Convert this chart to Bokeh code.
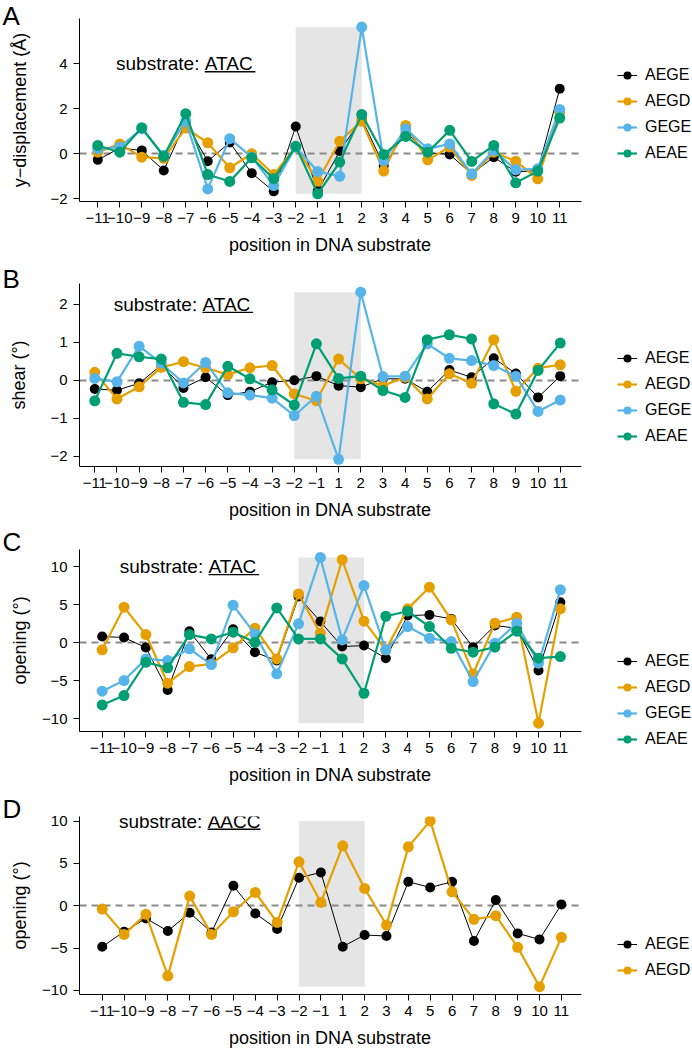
from bokeh.plotting import figure
from bokeh.models import Range1d, FixedTicker, Label, Legend, LegendItem
from bokeh.layouts import column
from bokeh.embed import file_html
from bokeh.resources import INLINE

FONT = "Liberation Sans"

# ---------------- data ----------------
positions = list(range(-11, 0)) + list(range(1, 12))
tick_labels = [str(v).replace("-", "\u2212") for v in positions]
series_names = ["AEGE", "AEGD", "GEGE", "AEAE"]
series_colors = {"AEGE": "#000000", "AEGD": "#E69F00", "GEGE": "#56B4E9", "AEAE": "#009E73"}

# Panel A: y-displacement (Å), substrate ATAC
a_AEGE = [-0.27, 0.25, 0.15, -0.74, 1.40, -0.33, 0.50, -0.86, -1.67, 1.21, -1.66,
          0.12, 1.55, -0.52, 0.95, 0.05, -0.03, -0.90, -0.15, -0.80, -0.75, 2.89]
a_AEGD = [0.07, 0.44, -0.15, -0.20, 1.14, 0.49, -0.62, 0.00, -0.92, 0.30, -1.21,
          0.56, 1.45, -0.77, 1.26, -0.27, 0.30, -0.96, 0.07, -0.33, -1.11, 1.85]
a_GEGE = [0.22, 0.30, 1.11, -0.07, 1.45, -1.56, 0.67, -0.15, -1.41, 0.30, -0.79,
          -1.00, 5.63, -0.30, 1.11, 0.22, 0.44, -0.89, 0.15, -0.71, -0.67, 1.97]
a_AEAE = [0.37, 0.07, 1.16, -0.12, 1.78, -0.92, -1.23, -0.18, -1.11, 0.33, -1.78,
          -0.37, 1.75, -0.03, 0.77, 0.07, 1.04, -0.34, 0.37, -1.29, -0.77, 1.59]

# Panel B: shear (°), substrate ATAC
b_AEGE = [-0.23, -0.26, -0.08, 0.40, -0.20, 0.08, -0.39, -0.30, -0.05, 0.00, 0.11,
          -0.14, -0.18, 0.04, 0.04, -0.30, 0.27, 0.08, 0.58, 0.18, -0.45, 0.11]
b_AEGD = [0.21, -0.49, -0.17, 0.34, 0.49, 0.33, 0.15, 0.33, 0.39, -0.36, -0.54,
          0.56, 0.04, -0.14, 0.08, -0.49, 0.17, -0.08, 1.07, -0.29, 0.32, 0.41]
b_GEGE = [0.05, -0.04, 0.90, 0.45, -0.07, 0.47, -0.33, -0.39, -0.47, -0.93, -0.42,
          -2.08, 2.32, 0.10, 0.11, 0.96, 0.58, 0.52, 0.39, 0.11, -0.82, -0.52]
b_AEAE = [-0.54, 0.71, 0.62, 0.56, -0.58, -0.64, 0.37, 0.04, -0.25, -0.65, 0.96,
          0.05, 0.11, -0.27, -0.45, 1.07, 1.20, 1.09, -0.62, -0.89, 0.26, 0.98]

# Panel C: opening (°), substrate ATAC
c_AEGE = [0.79, 0.66, -0.66, -6.23, 1.49, -2.19, 1.75, -1.27, -2.37, 6.05, 2.76,
          -0.53, -0.39, -2.06, 3.55, 3.64, 3.11, -0.61, 2.24, 1.89, -3.68, 5.30]
c_AEGD = [-0.96, 4.65, 1.05, -5.35, -3.16, -2.81, -0.70, 1.89, -2.15, 6.40, 1.23,
          10.90, 2.81, -0.96, 4.43, 7.28, 2.98, -4.12, 2.54, 3.33, -10.60, 4.43]
c_GEGE = [-6.40, -5.00, -2.15, -2.37, -0.83, -2.89, 4.91, 1.14, -4.12, 2.46, 11.20,
          0.35, 7.50, -0.96, 2.10, 0.57, 0.13, -5.13, -0.09, 2.54, -2.72, 6.93]
c_AEAE = [-8.20, -6.97, -2.59, -3.33, 1.05, 0.48, 1.36, 0.04, 4.56, 0.48, 0.48,
          -2.15, -6.67, 3.46, 4.12, 2.10, -0.75, -1.27, -0.61, 1.49, -2.06, -1.84]

# Panel D: opening (°), substrate AACC
d_AEGE = [-4.84, -3.07, -1.50, -2.99, -0.83, -3.15, 2.36, -0.91, -2.76, 3.31, 3.94,
          -4.84, -3.46, -3.58, 2.83, 2.17, 2.83, -4.17, 0.67, -3.27, -3.98, 0.16]
d_AEGD = [-0.39, -3.39, -1.02, -8.30, 1.14, -3.39, -0.71, 1.57, -1.97, 5.20, 0.39,
          7.09, 2.05, -2.28, 6.97, 10.04, 1.65, -1.61, -1.18, -4.92, -9.57, -3.74]

# ---------------- helpers ----------------
EM = {"s": .5, "u": .556, "b": .556, "t": .278, "r": .333, "a": .556, "e": .556,
      ":": .278, " ": .278, "A": .667, "T": .611, "C": .722}


def text_w(s, size):
    return sum(EM.get(ch, .556) for ch in s) * size


TOTAL_W = 692
MBL = 79
FW = 502


def panel(letter, ylabel, data, xr, yr, yticks, substrate, fh, mbt, mbb, title_standoff,
          legend_vy, ylab_standoff, xlab_standoff):
    xs = list(range(len(positions)))
    p = figure(frame_width=FW, frame_height=fh, min_border_left=MBL,
               min_border_right=TOTAL_W - MBL - FW,
               min_border_top=mbt, min_border_bottom=mbb,
               x_range=Range1d(*xr), y_range=Range1d(*yr), title=letter,
               output_backend="svg", toolbar_location=None)
    p.outline_line_color = None
    p.xgrid.visible = False
    p.ygrid.visible = False
    p.background_fill_color = "white"
    p.border_fill_color = "white"

    # panel letter as title, pulled to the left edge
    p.title.align = "left"
    p.title.offset = 2 - MBL
    p.title.standoff = title_standoff
    p.title.vertical_align = "bottom"
    p.title.text_font = FONT
    p.title.text_font_size = "26px"
    p.title.text_font_style = "normal"
    p.title.text_color = "black"

    allv = [v for vals in data.values() for v in vals]
    p.quad(left=[positions.index(-2)], right=[positions.index(2)],
           bottom=[min(allv)], top=[max(allv)], fill_color="#E5E5E5", line_color=None)
    p.hspan(y=[0], line_color="#8a8a8a", line_width=2, line_dash="7 5")

    items = []
    for name, vals in data.items():
        c = series_colors[name]
        lw = 1 if name == "AEGE" else 2.2
        sz = 10 if name == "AEGE" else 11
        lr = p.line(xs, vals, line_color=c, line_width=lw)
        sr = p.scatter(xs, vals, size=sz, fill_color=c, line_color=c, line_width=0)
        items.append(LegendItem(label=name, renderers=[lr, sr]))

    leg = Legend(items=items, location=(36, legend_vy), orientation="vertical",
                 border_line_color=None, background_fill_alpha=0, padding=0, margin=0,
                 spacing=6, label_height=20, glyph_height=20, glyph_width=20,
                 label_standoff=8, label_text_font=FONT, label_text_font_size="16px",
                 label_text_color="black")
    p.add_layout(leg, "right")

    xa = p.xaxis[0]
    xa.ticker = FixedTicker(ticks=xs)
    xa.major_label_overrides = {i: lab for i, lab in enumerate(tick_labels)}
    xa.axis_label = "position in DNA substrate"
    xa.axis_label_standoff = xlab_standoff
    xa.major_label_standoff = 5

    ya = p.yaxis[0]
    ya.ticker = FixedTicker(ticks=yticks)
    ya.major_label_overrides = {t: str(t).replace("-", "\u2212") for t in yticks}
    ya.axis_label = ylabel
    ya.axis_label_standoff = ylab_standoff
    ya.major_label_standoff = 6

    for ax in (xa, ya):
        ax.axis_line_color = "black"
        ax.axis_line_width = 1
        ax.major_tick_line_color = "black"
        ax.major_tick_out = 6
        ax.major_tick_in = 0
        ax.minor_tick_line_color = None
        ax.major_label_text_font = FONT
        ax.major_label_text_font_size = "15px"
        ax.major_label_text_color = "black"
        ax.axis_label_text_font = FONT
        ax.axis_label_text_font_size = "18px"
        ax.axis_label_text_font_style = "normal"
        ax.axis_label_text_color = "black"

    # "substrate: XXXX" with underlined code, centred at position -7, top tick
    size = 19
    px_x = FW / (xr[1] - xr[0])
    px_y = fh / (yr[1] - yr[0])
    w_sub = text_w("substrate: ", size)
    w_code = text_w(substrate, size)
    split = w_sub - (w_sub + w_code) / 2.0
    cx = positions.index(-7)
    ytop = max(yticks)
    p.add_layout(Label(x=cx, y=ytop, x_offset=split - 5.3, text="substrate:",
                       text_font=FONT, text_font_size=f"{size}px", text_color="black",
                       text_align="right", text_baseline="middle"))
    p.add_layout(Label(x=cx, y=ytop, x_offset=split, text=substrate,
                       text_font=FONT, text_font_size=f"{size}px", text_color="black",
                       text_align="left", text_baseline="middle"))
    uy = ytop - 8.0 / px_y
    p.segment(x0=[cx + split / px_x], x1=[cx + (split + w_code) / px_x], y0=[uy], y1=[uy],
              line_color="black", line_width=1.3)
    return p


pA = panel("A", "y\u2212displacement (\u00c5)",
           {"AEGE": a_AEGE, "AEGD": a_AEGD, "GEGE": a_GEGE, "AEAE": a_AEAE},
           (-0.83, 21.99), (-2.12, 6.01), [-2, 0, 2, 4], "ATAC",
           fh=183, mbt=18, mbb=61, title_standoff=-24, legend_vy=38,
           ylab_standoff=17, xlab_standoff=9)
pB = panel("B", "shear (\u00b0)",
           {"AEGE": b_AEGE, "AEGD": b_AEGD, "GEGE": b_GEGE, "AEAE": b_AEAE},
           (-0.69, 21.96), (-2.27, 2.55), [-2, -1, 0, 1, 2], "ATAC",
           fh=183, mbt=21, mbb=61, title_standoff=-20, legend_vy=20,
           ylab_standoff=18, xlab_standoff=9)
pC = panel("C", "opening (\u00b0)",
           {"AEGE": c_AEGE, "AEGD": c_AEGD, "GEGE": c_GEGE, "AEAE": c_AEAE},
           (-1.04, 21.97), (-11.7, 12.24), [-10, -5, 0, 5, 10], "ATAC",
           fh=182, mbt=22, mbb=63, title_standoff=-14, legend_vy=-18,
           ylab_standoff=9, xlab_standoff=9)
pD = panel("D", "opening (\u00b0)",
           {"AEGE": d_AEGE, "AEGD": d_AEGD},
           (-1.04, 21.92), (-10.5, 10.56), [-10, -5, 0, 5, 10], "AACC",
           fh=178, mbt=22, mbb=55, title_standoff=-14, legend_vy=14,
           ylab_standoff=9, xlab_standoff=9)

layout = column(pA, pB, pC, pD, spacing=0)
open("out.html", "w").write(file_html(layout, INLINE))
